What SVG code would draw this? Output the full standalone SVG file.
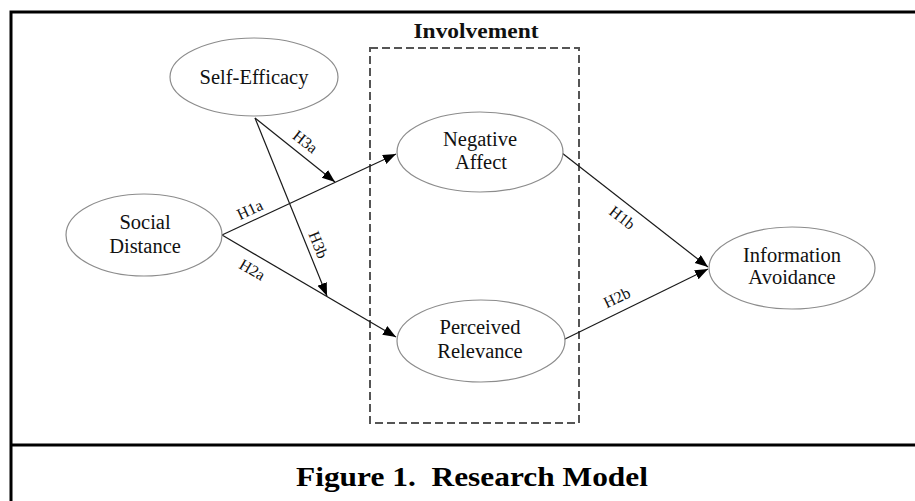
<svg xmlns="http://www.w3.org/2000/svg" width="915" height="501" viewBox="0 0 915 501">
<style>
.node ellipse{fill:#fff;stroke:#8c8c8c;stroke-width:1.2}
.nt{font-family:"Liberation Serif","Times New Roman",serif;font-size:20.5px;fill:#111;text-anchor:middle}
.lbl{font-family:"Liberation Serif","Times New Roman",serif;font-size:16px;fill:#111;text-anchor:middle}
.edge{stroke:#1a1a1a;stroke-width:1.2;fill:none;marker-end:url(#arr)}
.frame{stroke:#000;stroke-width:3;fill:none}
</style>
<defs>
<marker id="arr" markerUnits="userSpaceOnUse" markerWidth="14" markerHeight="12" refX="13" refY="5" orient="auto">
<path d="M0,0 L13,5 L0,10 z" fill="#000"/>
</marker>
</defs>
<rect width="915" height="501" fill="#fff"/>
<g id="frame">
<path class="frame" d="M11,501 V12 H915"/>
<path class="frame" d="M11,445 H915"/>
</g>
<g id="involvement">
<rect x="370" y="48" width="209" height="375" fill="none" stroke="#555" stroke-width="2" stroke-dasharray="8,4"/>
<text x="476" y="38" font-family="'Liberation Serif','Times New Roman',serif" font-size="20" font-weight="bold" text-anchor="middle" textLength="125" lengthAdjust="spacingAndGlyphs" fill="#111">Involvement</text>
</g>
<g id="connectors">
<line class="edge" x1="222" y1="235" x2="396" y2="154"/>
<line class="edge" x1="222" y1="235" x2="396" y2="337"/>
<line class="edge" x1="255" y1="118" x2="335" y2="182"/>
<line class="edge" x1="255" y1="118" x2="327" y2="296"/>
<line class="edge" x1="562" y1="153" x2="708" y2="267"/>
<line class="edge" x1="563" y1="340" x2="708" y2="269"/>
<text class="lbl" transform="translate(250,210) rotate(-25)" y="5">H1a</text>
<text class="lbl" transform="translate(252,270) rotate(30)" y="5">H2a</text>
<text class="lbl" transform="translate(305,142) rotate(38)" y="5">H3a</text>
<text class="lbl" transform="translate(318,245) rotate(68)" y="5">H3b</text>
<text class="lbl" transform="translate(622,218) rotate(38)" y="5">H1b</text>
<text class="lbl" transform="translate(617,298) rotate(-26)" y="5">H2b</text>
</g>
<g id="self-efficacy" class="node">
<ellipse cx="254" cy="77" rx="84" ry="39"/>
<text class="nt" x="254" y="84">Self-Efficacy</text>
</g>
<g id="social-distance" class="node">
<ellipse cx="144" cy="235" rx="78" ry="41"/>
<text class="nt" x="145" y="229">Social</text>
<text class="nt" x="145" y="253">Distance</text>
</g>
<g id="negative-affect" class="node">
<ellipse cx="480" cy="152" rx="83" ry="40"/>
<text class="nt" x="480" y="146">Negative</text>
<text class="nt" x="481" y="169">Affect</text>
</g>
<g id="perceived-relevance" class="node">
<ellipse cx="481" cy="341" rx="84" ry="41"/>
<text class="nt" x="480" y="334">Perceived</text>
<text class="nt" x="480" y="358">Relevance</text>
</g>
<g id="information-avoidance" class="node">
<ellipse cx="792" cy="268" rx="83" ry="41"/>
<text class="nt" x="792" y="262">Information</text>
<text class="nt" x="792" y="284">Avoidance</text>
</g>
<g id="caption">
<text x="472" y="486" font-family="'Liberation Serif','Times New Roman',serif" font-size="27" font-weight="bold" text-anchor="middle" textLength="352" lengthAdjust="spacingAndGlyphs" fill="#000" xml:space="preserve">Figure 1.  Research Model</text>
</g>
</svg>
